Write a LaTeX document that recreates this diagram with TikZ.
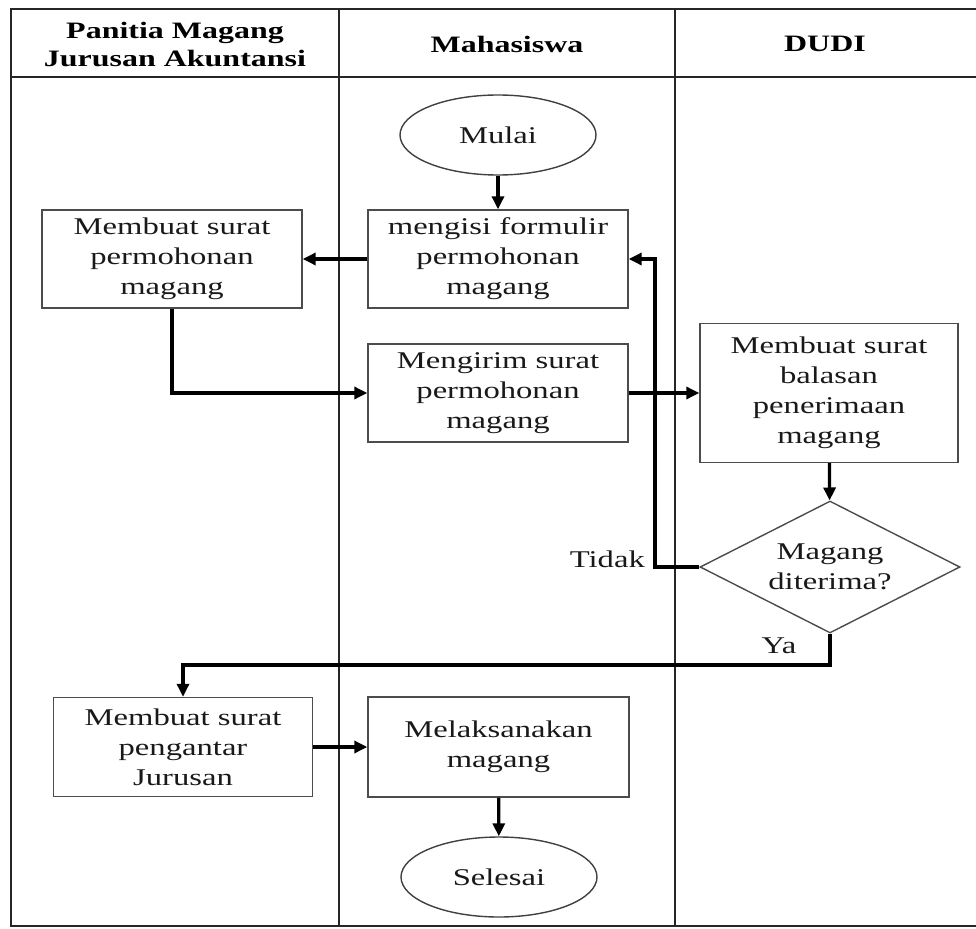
\documentclass[tikz,border=0pt]{standalone}
\usepackage{fontspec}
\setmainfont[FakeStretch=1.36]{Liberation Serif}
\usetikzlibrary{arrows.meta,shapes.geometric}
\tikzset{
  txt/.style={font=\fontsize{24}{30}\selectfont, align=center, text=black!90},
  hdr/.style={font=\fontsize{23.5}{28}\selectfont\bfseries, align=center},
  frame/.style={line width=1.8pt, draw=black!85},
  procbox/.style={txt, draw=black!70, line width=1.4pt, rectangle, inner sep=0pt},
  term/.style={txt, draw=black!75, line width=1.4pt, ellipse, inner sep=0pt, minimum width=196pt, minimum height=80pt},
  decide/.style={txt, draw=black!70, line width=1.4pt, diamond, aspect=2, inner sep=0pt, minimum width=260pt, minimum height=132pt},
  flow/.style={line width=3.2pt, black, -{Triangle[length=13pt,width=12pt]}},
  lbl/.style={font=\fontsize{24}{30}\selectfont, text=black!90, inner sep=0pt}
}
\begin{document}
\begin{tikzpicture}[x=1pt,y=-1pt]
\useasboundingbox (0,0) rectangle (976,928);
% swimlane frame
\draw[frame] (976,9) -- (11,9) -- (11,926) -- (976,926);
\draw[frame] (11,77) -- (976,77);
\draw[frame] (339,9) -- (339,926);
\draw[frame] (675,9) -- (675,926);
% headers
\node[hdr] (h1) at (175,44) {Panitia Magang\\Jurusan Akuntansi};
\node[hdr] (h2) at (507,44) {Mahasiswa};
\node[hdr] (h3) at (825,44) {DUDI};
% nodes
\node[term] (mulai) at (498,135) {Mulai};
\node[procbox, minimum width=260pt, minimum height=98pt] (isi) at (498,259) {mengisi formulir\\permohonan\\magang};
\node[procbox, minimum width=260pt, minimum height=98pt] (buat) at (172,259) {Membuat surat\\permohonan\\magang};
\node[procbox, minimum width=260pt, minimum height=98pt] (kirim) at (498,393) {Mengirim surat\\permohonan\\magang};
\node[procbox, minimum width=258pt, minimum height=139pt] (balas) at (829,393) {Membuat surat\\balasan\\penerimaan\\magang};
\node[decide] (dec) at (830,567) {Magang\\diterima?};
\node[procbox, minimum width=259pt, minimum height=99pt] (antar) at (183,747) {Membuat surat\\pengantar\\Jurusan};
\node[procbox, minimum width=261pt, minimum height=100pt] (laks) at (498.5,747) {Melaksanakan\\magang};
\node[term] (selesai) at (499,877) {Selesai};
% helper coordinates
\coordinate (loop) at (655,259);
\coordinate (ybend) at (183,665);
% connectors
\draw[flow] (mulai) -- (isi);
\draw[flow] (isi.west) -- (buat.east);
\draw[flow] (buat.south) |- (kirim.west);
\draw[flow] (kirim.east) -- (balas.west);
\draw[flow] (balas) -- (dec);
\draw[flow] (dec.west) -| (loop) -- (isi.east);
\draw[flow] (dec.south) |- (ybend) -- (antar.north);
\draw[flow] (antar.east) -- (laks.west);
\draw[flow] (laks) -- (selesai);
% labels
\node[lbl, anchor=base east] (tidak) at (645,567) {Tidak};
\node[lbl, anchor=base] (ya) at (779,653) {Ya};
\end{tikzpicture}
\end{document}
